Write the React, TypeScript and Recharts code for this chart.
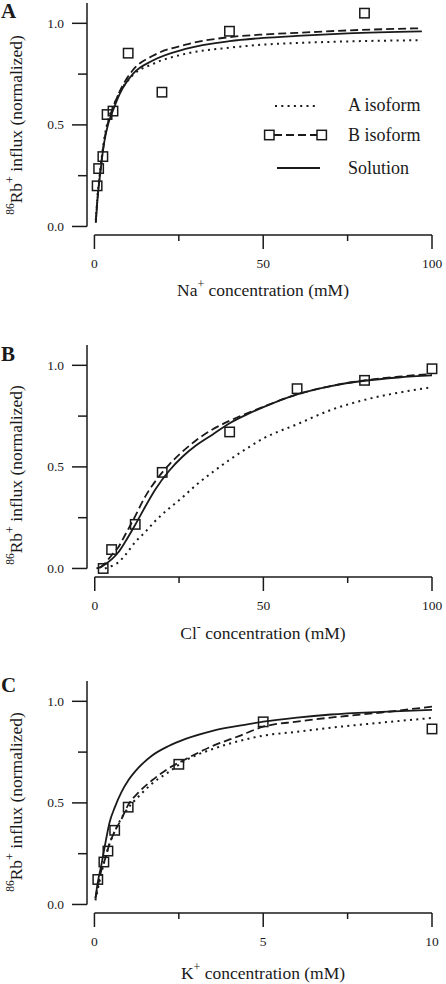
import { ComposedChart, Line, XAxis, YAxis, ReferenceLine } from 'recharts';

const FONT = '"Liberation Serif", "Times New Roman", serif';
const INK = '#1a1a1a';
const Y_MIN = -0.042;
const Y_MAX = 1.1;
const Y_TICKS = [0, 0.25, 0.5, 0.75, 1];

// Panel A - Na+ dependence
const naSquareX = [0.8, 1.25, 2.5, 3.75, 5.5, 10, 20, 40, 80];
const naSquareY = [0.2, 0.285, 0.344, 0.551, 0.568, 0.853, 0.661, 0.961, 1.05];
const naCurveX = [0.4, 1, 1.6, 2.2, 3, 4, 5.5, 7.5, 11.4, 17.3, 27, 40, 50, 60, 75, 97];
const naSolution = [0.018, 0.15, 0.244, 0.33, 0.424, 0.5, 0.571, 0.653, 0.751, 0.817, 0.874, 0.912, 0.928, 0.938, 0.95, 0.96];
const naIsoB = [0.02, 0.155, 0.25, 0.335, 0.43, 0.51, 0.585, 0.665, 0.77, 0.84, 0.895, 0.932, 0.945, 0.953, 0.965, 0.976];
const naIsoA = [0.03, 0.17, 0.26, 0.345, 0.44, 0.52, 0.59, 0.66, 0.745, 0.8, 0.85, 0.88, 0.895, 0.903, 0.911, 0.917];

// Panel B - Cl- dependence
const clSquareX = [2.5, 5, 12, 20, 40, 60, 80, 100];
const clSquareY = [0, 0.093, 0.217, 0.473, 0.672, 0.885, 0.926, 0.983];
const clCurveX = [0.5, 1.5, 3, 5, 7, 9, 12, 15, 18, 22, 26, 30, 35, 40, 45, 50, 60, 70, 80, 90, 100];
const clSolution = [0, 0.005, 0.02, 0.045, 0.08, 0.13, 0.215, 0.305, 0.39, 0.48, 0.55, 0.605, 0.66, 0.715, 0.757, 0.794, 0.857, 0.898, 0.924, 0.94, 0.95];
const clIsoB = [null, 0.003, 0.025, 0.065, 0.105, 0.165, 0.258, 0.355, 0.43, 0.51, 0.575, 0.63, 0.685, 0.727, 0.763, 0.796, 0.857, 0.898, 0.926, 0.944, 0.958];
const clIsoA = [null, null, 0, 0.012, 0.03, 0.065, 0.13, 0.18, 0.235, 0.295, 0.35, 0.41, 0.475, 0.535, 0.59, 0.64, 0.71, 0.78, 0.83, 0.865, 0.892];

// Panel C - K+ dependence
const kSquareX = [0.1, 0.28, 0.4, 0.6, 1, 2.5, 5, 10];
const kSquareY = [0.123, 0.209, 0.263, 0.365, 0.479, 0.69, 0.899, 0.864];
const kCurveX = [0.03, 0.1, 0.2, 0.3, 0.45, 0.6, 0.8, 1, 1.3, 1.7, 2.2, 2.7, 3.5, 4.3, 5, 6, 7, 8.5, 10];
const kSolution = [0.03, 0.11, 0.19, 0.28, 0.405, 0.477, 0.553, 0.61, 0.672, 0.732, 0.78, 0.815, 0.855, 0.88, 0.9, 0.92, 0.935, 0.948, 0.958];
const kIsoB = [0.03, 0.09, 0.165, 0.215, 0.3, 0.36, 0.42, 0.49, 0.55, 0.61, 0.67, 0.715, 0.78, 0.83, 0.875, 0.9, 0.92, 0.945, 0.974];
const kIsoA = [0.02, 0.075, 0.15, 0.215, 0.3, 0.36, 0.425, 0.475, 0.53, 0.594, 0.652, 0.709, 0.765, 0.805, 0.831, 0.85, 0.87, 0.895, 0.918];

const toRows = (xs: number[], ys: (number | null)[]) => xs.map((x, i) => ({ x, y: ys[i] }));

const Square = (p: any) => {
  if (p.cx == null || p.cy == null) return null;
  return <rect key={p.key} x={p.cx - 4.7} y={p.cy - 4.7} width={9.4} height={9.4} fill="none" stroke={INK} strokeWidth={1.5} />;
};

const YTick = ({ x, y, payload }: any) => {
  const v = payload.value;
  const major = Math.abs(v * 2 - Math.round(v * 2)) < 1e-6;
  return (
    <g>
      <line x1={x - (major ? 15 : 9)} x2={x} y1={y} y2={y} stroke={INK} strokeWidth={1.5} />
      {major && (
        <text x={x - 23} y={y} textAnchor="end" dominantBaseline="central" style={{ fontFamily: FONT }} fontSize={13.5} fill={INK}>
          {v.toFixed(1)}
        </text>
      )}
    </g>
  );
};

const XTick = ({ x, y, payload, major }: any) => {
  const v = payload.value;
  const isMajor = major.includes(v);
  return (
    <g>
      <line x1={x} x2={x} y1={y} y2={y + (isMajor ? 14 : 6)} stroke={INK} strokeWidth={1.5} />
      {isMajor && (
        <text x={x} y={y + 28} textAnchor="middle" dominantBaseline="central" style={{ fontFamily: FONT }} fontSize={13.5} fill={INK}>
          {v}
        </text>
      )}
    </g>
  );
};

const panels = [
  {
    letter: 'A', top: 0, height: 320, mt: 3, mb: 25, letterY: 18, titleY: 296, yTitleC: 125,
    xMin: -2.2, xMax: 100, xTicks: [0, 25, 50, 75, 100], xMajor: [0, 50, 100],
    ion: 'Na', charge: '+',
    squares: toRows(naSquareX, naSquareY),
    solution: toRows(naCurveX, naSolution), isoA: toRows(naCurveX, naIsoA), isoB: toRows(naCurveX, naIsoB),
    legend: true,
  },
  {
    letter: 'B', top: 320, height: 320, mt: 25, mb: 3, letterY: 41, titleY: 319, yTitleC: 155,
    xMin: -2.3, xMax: 100, xTicks: [0, 25, 50, 75, 100], xMajor: [0, 50, 100],
    ion: 'Cl', charge: '-',
    squares: toRows(clSquareX, clSquareY),
    solution: toRows(clCurveX, clSolution), isoA: toRows(clCurveX, clIsoA), isoB: toRows(clCurveX, clIsoB),
    legend: false,
  },
  {
    letter: 'C', top: 640, height: 344, mt: 41, mb: 11, letterY: 52, titleY: 339, yTitleC: 162,
    xMin: -0.22, xMax: 10, xTicks: [0, 2.5, 5, 7.5, 10], xMajor: [0, 5, 10],
    ion: 'K', charge: '+',
    squares: toRows(kSquareX, kSquareY),
    solution: toRows(kCurveX, kSolution), isoA: toRows(kCurveX, kIsoA), isoB: toRows(kCurveX, kIsoB),
    legend: false,
  },
];

function Panel({ p }: { p: (typeof panels)[number] }) {
  return (
    <div style={{ position: 'absolute', left: 0, top: p.top, width: 446, height: p.height }}>
      <ComposedChart width={446} height={p.height} margin={{ top: p.mt, right: 14, bottom: p.mb, left: 0 }}>
        <XAxis
          type="number" dataKey="x" domain={[p.xMin, p.xMax]} ticks={p.xTicks} interval={0}
          axisLine={false} tickLine={false} tickSize={0} tickMargin={0} height={60}
          tick={(t: any) => <XTick {...t} major={p.xMajor} />}
        />
        <YAxis
          type="number" domain={[Y_MIN, Y_MAX]} ticks={Y_TICKS} interval={0}
          axisLine={false} tickLine={false} tickSize={0} tickMargin={0} width={87}
          tick={(t: any) => <YTick {...t} />}
        />
        <ReferenceLine segment={[{ x: p.xMin, y: 0 }, { x: p.xMin, y: Y_MAX }]} stroke={INK} strokeWidth={1.5} ifOverflow="visible" />
        <ReferenceLine segment={[{ x: 0, y: Y_MIN }, { x: p.xMax, y: Y_MIN }]} stroke={INK} strokeWidth={1.5} ifOverflow="visible" />
        <Line data={p.isoA} dataKey="y" type="monotone" stroke={INK} strokeWidth={2} strokeDasharray="2 4.3" dot={false} activeDot={false} isAnimationActive={false} />
        <Line data={p.isoB} dataKey="y" type="monotone" stroke={INK} strokeWidth={1.8} strokeDasharray="8 4" dot={false} activeDot={false} isAnimationActive={false} />
        <Line data={p.solution} dataKey="y" type="monotone" stroke={INK} strokeWidth={1.8} dot={false} activeDot={false} isAnimationActive={false} />
        <Line data={p.squares} dataKey="y" stroke="none" dot={Square} activeDot={false} isAnimationActive={false} />
      </ComposedChart>
      <svg width={446} height={p.height} style={{ position: 'absolute', left: 0, top: 0, overflow: 'visible', pointerEvents: 'none', fontFamily: FONT }} fill={INK}>
        <text x={1} y={p.letterY} fontSize={21} fontWeight="bold">{p.letter}</text>
        <text x={263} y={p.titleY} textAnchor="middle" fontSize={17.5}>
          <tspan>{p.ion}</tspan>
          <tspan dy={-8} fontSize={12}>{p.charge}</tspan>
          <tspan dy={8}> concentration (mM)</tspan>
        </text>
        <text transform={`translate(22, ${p.yTitleC}) rotate(-90)`} textAnchor="middle" fontSize={17.5}>
          <tspan dy={-8} fontSize={11.5}>86</tspan>
          <tspan dy={8}>Rb</tspan>
          <tspan dy={-8} fontSize={12}>+</tspan>
          <tspan dy={8}> influx (normalized)</tspan>
        </text>
        {p.legend && (
          <g fontSize={18}>
            <line x1={275} x2={318} y1={106} y2={106} stroke={INK} strokeWidth={2} strokeDasharray="2 4.3" />
            <text x={348} y={111}>A isoform</text>
            <line x1={274} x2={317} y1={135} y2={135} stroke={INK} strokeWidth={1.8} strokeDasharray="8 4" />
            <rect x={264.6} y={130.3} width={9.4} height={9.4} fill="none" stroke={INK} strokeWidth={1.5} />
            <rect x={317} y={130.3} width={9.4} height={9.4} fill="none" stroke={INK} strokeWidth={1.5} />
            <text x={348} y={141}>B isoform</text>
            <line x1={277} x2={320} y1={168} y2={168} stroke={INK} strokeWidth={1.8} />
            <text x={348} y={174}>Solution</text>
          </g>
        )}
      </svg>
    </div>
  );
}

export default function App() {
  return (
    <div style={{ position: 'absolute', left: 0, top: 0, width: 446, height: 984, background: '#fff' }}>
      {panels.map((p) => (
        <Panel key={p.letter} p={p} />
      ))}
    </div>
  );
}
